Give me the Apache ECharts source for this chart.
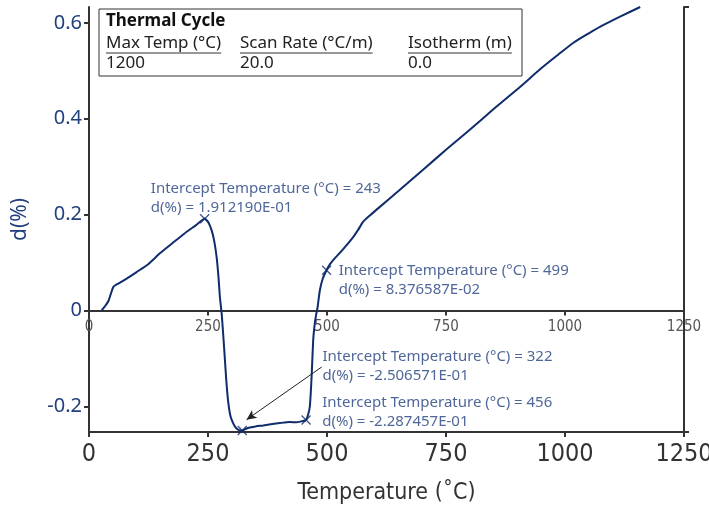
<!DOCTYPE html>
<html><head><meta charset="utf-8">
<script src="https://cdn.jsdelivr.net/npm/echarts@6/dist/echarts.min.js"></script>
<style>html,body{margin:0;padding:0;background:#fff}#c{width:709px;height:506px}</style>
</head><body><div id="c"></div>
<script>
// Curve data: temperature (°C) and d(%)
const temps = [26.7,33,40.6,46,51,56,61.6,80,100,125,149,175,200,225,243,250,257.7,263,268,272,275,279,284,288,292,296,300,306,312,318,322,330,338,350,366,385,401,422,436,446,456,461,464,466,468,471,474,477,480,485,491,499,506,513,534,555,566,576,590,611,650,700,750,800,850,903,950,985,1017,1050,1080,1120,1158];
const dvals = [0,0.008,0.019,0.035,0.049,0.053,0.056,0.067,0.08,0.097,0.119,0.14,0.16,0.178,0.1912,0.185,0.167,0.145,0.112,0.07,0.028,-0.01,-0.08,-0.14,-0.187,-0.215,-0.229,-0.241,-0.248,-0.2503,-0.2507,-0.247,-0.2445,-0.242,-0.24,-0.237,-0.235,-0.233,-0.2334,-0.2315,-0.2287,-0.215,-0.2,-0.17,-0.131,-0.062,-0.03,-0.01,0.005,0.042,0.066,0.0838,0.096,0.105,0.128,0.153,0.169,0.185,0.198,0.216,0.249,0.292,0.335,0.377,0.42,0.464,0.505,0.533,0.558,0.578,0.595,0.615,0.633];
// Intercept annotations
const interceptT = [243, 499, 322, 456];
const interceptD = [0.191219, 0.08376587, -0.2506571, -0.2287457];
const interceptText = [
  'Intercept Temperature (°C) = 243\nd(%) = 1.912190E-01',
  'Intercept Temperature (°C) = 499\nd(%) = 8.376587E-02',
  'Intercept Temperature (°C) = 322\nd(%) = -2.506571E-01',
  'Intercept Temperature (°C) = 456\nd(%) = -2.287457E-01'
];
// Arrow pointing to the 322 intercept
const arrowFrom = [489, -0.118];
const arrowTo = [331, -0.228];
// Axis settings
const xMin = 0, xMax = 1250, xStep = 250;
const yMin = -0.2537, yMax = 0.633;
// Info box
const boxTitle = 'Thermal Cycle';
const boxHeaders = ['Max Temp (°C)', 'Scan Rate (°C/m)', 'Isotherm (m)'];
const boxValues = ['1200', '20.0', '0.0'];

const NAVY = '#0f2c6b';
const LABEL_NAVY = '#22407e';
const AXIS = '#333333';
const NARROW = '"Liberation Sans Narrow", "DejaVu Sans Condensed", "Arial Narrow", sans-serif';
const SANS = '"Noto Sans", sans-serif';

const labelOffsets = [[-59, -21], [7, 10], [75, -64], [11, -8]];

const chart = echarts.init(document.getElementById('c'), null, {renderer: 'canvas'});

function textWidth(t, font) {
  const c = document.createElement('canvas').getContext('2d');
  c.font = font; return c.measureText(t).width;
}
// Plot-area geometry
const G = {left: 89, right: 25, top: 7, bottom: 74};
const plotH = 506 - G.top - G.bottom;
const zeroFromBottom = 506 - (G.top + plotH * yMax / (yMax - yMin));

const headerX = [106, 240, 408];
const boxFont = '17px ' + SANS;
const boxEls = [
  {type: 'rect', shape: {x: 99, y: 9, width: 423, height: 67}, style: {fill: '#fff', stroke: '#333', lineWidth: 1}},
  {type: 'text', x: 106, y: 21, style: {text: boxTitle, font: 'bold 17px ' + SANS, fill: '#111', verticalAlign: 'middle'}}
];
boxHeaders.forEach((h, i) => {
  boxEls.push({type: 'text', x: headerX[i], y: 43, style: {text: h, font: boxFont, fill: '#222', verticalAlign: 'middle'}});
  const w = textWidth(h, boxFont);
  boxEls.push({type: 'line', shape: {x1: headerX[i], y1: 53, x2: headerX[i] + w, y2: 53}, style: {stroke: '#333', lineWidth: 1}});
  boxEls.push({type: 'text', x: headerX[i], y: 63, style: {text: boxValues[i], font: boxFont, fill: '#222', verticalAlign: 'middle'}});
});

const plainNum = v => String(v);

const option = {
  animation: false,
  backgroundColor: '#fff',
  grid: [
    {left: G.left, right: G.right, top: G.top, bottom: G.bottom, containLabel: false, outerBoundsMode: 'none'},
    {left: G.left, right: G.right, top: G.top, bottom: zeroFromBottom, containLabel: false, outerBoundsMode: 'none'}
  ],
  xAxis: [
    {
      gridIndex: 0, type: 'value', min: xMin, max: xMax, interval: xStep, position: 'bottom',
      axisLine: {onZero: false, lineStyle: {color: AXIS, width: 2}},
      axisTick: {show: true, length: 5, lineStyle: {color: AXIS, width: 2}},
      axisLabel: {color: '#333', fontSize: 25, fontFamily: NARROW, margin: 10, formatter: plainNum},
      splitLine: {show: false},
      name: 'Temperature (˚C)', nameLocation: 'middle', nameGap: 50,
      nameTextStyle: {color: '#333', fontSize: 23, fontFamily: NARROW}
    },
    {
      gridIndex: 1, type: 'value', min: xMin, max: xMax, interval: xStep, position: 'bottom',
      axisLine: {onZero: false, lineStyle: {color: AXIS, width: 2}},
      axisTick: {show: true, length: 5, lineStyle: {color: AXIS, width: 2}},
      axisLabel: {color: '#555', fontSize: 15, fontFamily: NARROW, margin: 9, formatter: plainNum},
      splitLine: {show: false}
    }
  ],
  yAxis: [
    {
      gridIndex: 0, type: 'value', min: yMin, max: yMax, position: 'left', splitNumber: 5,
      axisLine: {show: true, onZero: false, lineStyle: {color: AXIS, width: 2}},
      axisTick: {show: true, length: 5, lineStyle: {color: AXIS, width: 2}},
      axisLabel: {color: LABEL_NAVY, fontSize: 20, fontFamily: SANS, margin: 7, showMinLabel: false, showMaxLabel: false, formatter: plainNum},
      splitLine: {show: false},
      name: 'd(%)', nameLocation: 'middle', nameGap: 58,
      nameTextStyle: {color: LABEL_NAVY, fontSize: 21, fontFamily: SANS}
    },
    {
      gridIndex: 0, type: 'value', min: yMin, max: yMax, interval: yMax - yMin, position: 'right',
      axisLine: {show: true, onZero: false, lineStyle: {color: AXIS, width: 2}},
      axisTick: {show: true, length: 5, lineStyle: {color: AXIS, width: 2}},
      axisLabel: {show: false},
      splitLine: {show: false}
    },
    {
      gridIndex: 1, type: 'value', min: 0, max: 1, show: false
    }
  ],
  graphic: [{type: 'group', x: 0, y: 0, children: boxEls}],
  series: [
    {
      type: 'line', xAxisIndex: 0, yAxisIndex: 0,
      data: temps.map((t, i) => [t, dvals[i]]),
      showSymbol: false, smooth: 0.2,
      lineStyle: {color: NAVY, width: 2},
      silent: true,
      markLine: {
        silent: true, symbol: ['none', 'arrow'], symbolSize: [7, 10],
        label: {show: false},
        lineStyle: {color: '#222', width: 1, type: 'solid'},
        data: [[{coord: arrowFrom}, {coord: arrowTo}]]
      }
    },
    {
      type: 'scatter', xAxisIndex: 0, yAxisIndex: 0,
      symbol: 'path://M0,0L10,10M10,0L0,10', symbolSize: 9,
      itemStyle: {color: 'rgba(0,0,0,0)', borderColor: NAVY, borderWidth: 1.3},
      data: interceptT.map((t, i) => ({
        value: [t, interceptD[i]],
        label: {
          show: true, position: 'right', distance: 0, offset: labelOffsets[i],
          formatter: interceptText[i], color: LABEL_NAVY, fontSize: 15, fontFamily: SANS,
          lineHeight: 19, align: 'left', verticalAlign: 'middle'
        }
      })),
      silent: true
    }
  ]
};
chart.setOption(option);
</script>
</body></html>
